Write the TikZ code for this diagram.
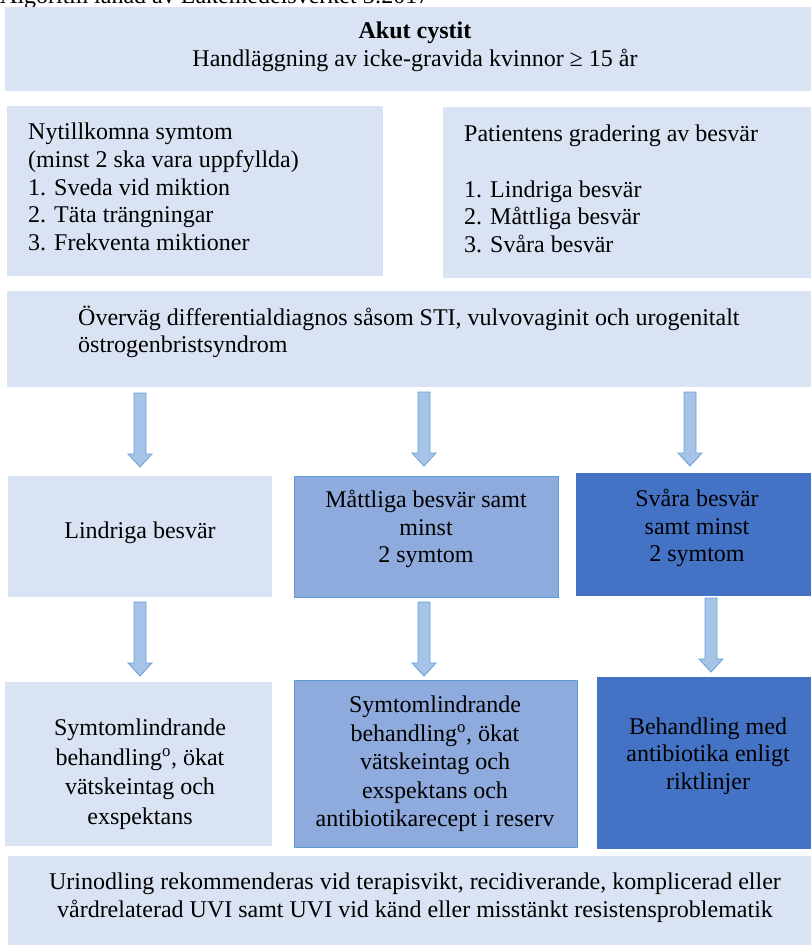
\documentclass[tikz,border=0pt]{standalone}
\usepackage{fontspec}
\setmainfont{Liberation Serif}
\usetikzlibrary{calc}
\definecolor{lightbox}{HTML}{DAE3F3}
\definecolor{midbox}{HTML}{8FAADC}
\definecolor{darkbox}{HTML}{4472C4}
\definecolor{midline}{HTML}{5B9BD5}
\definecolor{arrowfill}{HTML}{A6C3E8}
\definecolor{arrowline}{HTML}{6A9FD8}
\tikzset{
  boxbase/.style={rectangle, anchor=north west, inner sep=0pt, outer sep=0pt},
  lightrect/.style={boxbase, fill=lightbox},
  midrect/.style={boxbase, fill=midbox, draw=midline, line width=0.9pt},
  darkrect/.style={boxbase, fill=darkbox},
  txt/.style={inner sep=0pt, font=\fontsize{24}{27.6}\selectfont},
  ctxt/.style={txt, align=center},
  ltxt/.style={txt, align=left, anchor=west},
  barrowstyle/.style={fill=arrowfill, draw=arrowline, line width=0.8pt, line join=miter}
}
\newcommand\blockarrow[2]{%
  \path[barrowstyle] let \p1=(#1), \p2=(#2) in
    (\x1-6pt,\y1) -- (\x1+6pt,\y1) -- (\x1+6pt,\y2+13pt) -- (\x1+12pt,\y2+13pt)
    -- (\x1,\y2) -- (\x1-12pt,\y2+13pt) -- (\x1-6pt,\y2+13pt) -- cycle;}
\begin{document}
\begin{tikzpicture}[x=1pt, y=-1pt]
\useasboundingbox (0,0) rectangle (811,945);
% clipped header
\node[txt, anchor=base west] (hdr) at (0,3) {Algoritm lånad av Läkemedelsverket 3:2017};
% title
\node[lightrect, minimum width=806pt, minimum height=84pt] (title) at (5,7) {};
\node[ctxt] (titletxt) at (415,46.5) {\textbf{Akut cystit}\\Handläggning av icke-gravida kvinnor ≥ 15 år};
% symptom boxes
\node[lightrect, minimum width=376pt, minimum height=170pt] (sym) at (7,106) {};
\node[ltxt] (symtxt) at (28,187) {Nytillkomna symtom\\(minst 2 ska vara uppfyllda)\\1. Sveda vid miktion\\2. Täta trängningar\\3. Frekventa miktioner};
\node[lightrect, minimum width=368pt, minimum height=171pt] (grad) at (443,107) {};
\node[ltxt] (gradtxt) at (464,189) {Patientens gradering av besvär\\[27.6pt]1. Lindriga besvär\\2. Måttliga besvär\\3. Svåra besvär};
% differential
\node[lightrect, minimum width=804pt, minimum height=96pt] (diff) at (7,291) {};
\node[ltxt] (difftxt) at (78,332) {Överväg differentialdiagnos såsom STI, vulvovaginit och urogenitalt\\östrogenbristsyndrom};
% row 2
\node[lightrect, minimum width=264pt, minimum height=121pt] (lin) at (8,476) {};
\node[ctxt] (lintxt) at (140,533) {Lindriga besvär};
\node[midrect, minimum width=264pt, minimum height=121pt] (mat) at (294,476) {};
\node[ctxt] (mattxt) at (426,529) {Måttliga besvär samt\\minst\\2 symtom};
\node[darkrect, minimum width=235pt, minimum height=123pt] (sva) at (576,473) {};
\node[ctxt] (svatxt) at (697,528) {Svåra besvär\\samt minst\\2 symtom};
% row 3
\node[lightrect, minimum width=267pt, minimum height=164pt] (linr) at (5,682) {};
\node[ctxt, font=\fontsize{24}{29.5}\selectfont] (linrtxt) at (140,774) {Symtomlindrande\\behandling\textsuperscript{o}, ökat\\vätskeintag och\\exspektans};
\node[midrect, minimum width=283pt, minimum height=167pt] (matr) at (294,680) {};
\node[ctxt, font=\fontsize{24}{28.5}\selectfont] (matrtxt) at (435,764) {Symtomlindrande\\behandling\textsuperscript{o}, ökat\\vätskeintag och\\exspektans och\\antibiotikarecept i reserv};
\node[darkrect, minimum width=214pt, minimum height=172pt] (svar) at (597,677) {};
\node[ctxt] (svartxt) at (708,756) {Behandling med\\antibiotika enligt\\riktlinjer};
% bottom
\node[lightrect, minimum width=803pt, minimum height=92pt] (odl) at (8,856) {};
\node[ctxt] (odltxt) at (415,898) {Urinodling rekommenderas vid terapisvikt, recidiverande, komplicerad eller\\vårdrelaterad UVI samt UVI vid känd eller misstänkt resistensproblematik};
% arrow anchor coordinates
\coordinate (a1s) at (140,393); \coordinate (a1e) at (140,467);
\coordinate (a2s) at (424,392); \coordinate (a2e) at (424,466);
\coordinate (a3s) at (690,392); \coordinate (a3e) at (690,466);
\coordinate (b1s) at (140,602); \coordinate (b1e) at (140,676);
\coordinate (b2s) at (424,602); \coordinate (b2e) at (424,676);
\coordinate (b3s) at (711,598); \coordinate (b3e) at (711,672);
\blockarrow{a1s}{a1e}
\blockarrow{a2s}{a2e}
\blockarrow{a3s}{a3e}
\blockarrow{b1s}{b1e}
\blockarrow{b2s}{b2e}
\blockarrow{b3s}{b3e}
\end{tikzpicture}
\end{document}
